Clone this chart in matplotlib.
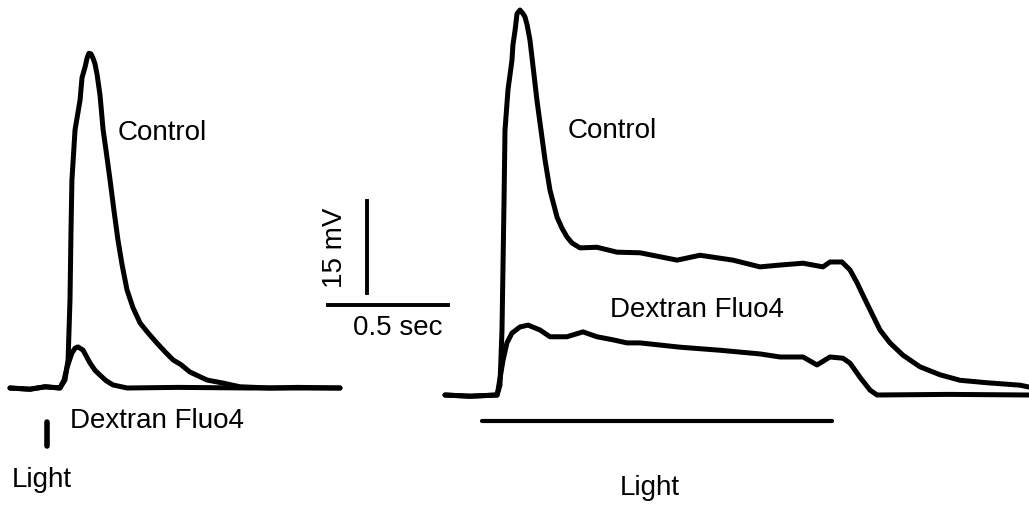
import numpy as np
import matplotlib.pyplot as plt

# Recorded traces, time in s from sweep start, voltage in mV above rest
# Left panel: brief flash
left_t = [0, 0.083, 0.146, 0.208, 0.229, 0.242, 0.25, 0.254, 0.258, 0.271, 0.292,
          0.3, 0.313, 0.321, 0.329, 0.3375, 0.346, 0.354, 0.363, 0.375, 0.388, 0.4,
          0.417, 0.433, 0.45, 0.467, 0.4875, 0.5125, 0.542, 0.575, 0.613, 0.646,
          0.679, 0.7125, 0.75, 0.821, 0.888, 0.958, 1.083, 1.2, 1.375]
left_control = [0, -0.2, 0.2, 0, 1.3, 4.6, 14.4, 25.3, 33.9, 42.1, 47.0,
                50.6, 52.4, 53.8, 54.6, 54.5, 53.8, 52.9, 51.1, 47.8, 42.1, 38.8,
                33.9, 29.0, 24.1, 20.1, 16.0, 13.1, 10.6, 9.0, 7.3, 5.9,
                4.6, 3.8, 2.6, 1.3, 0.8, 0.2, 0, 0.1, 0]

left_dex_t = [0, 0.083, 0.146, 0.208, 0.225, 0.238, 0.258, 0.271, 0.283, 0.304, 0.333,
              0.354, 0.375, 0.4, 0.429, 0.488, 0.7, 1.0, 1.375]
left_dextran = [0, -0.2, 0.2, 0, 1.3, 3.4, 5.7, 6.5, 6.7, 6.2, 4.1,
                2.9, 2.1, 1.2, 0.5, 0, 0.1, 0, 0]

# Right panel: long light step
right_t = [0, 0.104, 0.217, 0.229, 0.2375, 0.246, 0.25, 0.2625, 0.279, 0.283, 0.292,
           0.3, 0.3125, 0.325, 0.333, 0.342, 0.354, 0.371, 0.383, 0.4, 0.417, 0.4375,
           0.467, 0.4875, 0.508, 0.529, 0.5625, 0.633, 0.717, 0.8125, 0.967, 1.0625,
           1.2, 1.3125, 1.396, 1.492, 1.575, 1.604, 1.654, 1.6875, 1.717, 1.7375,
           1.771, 1.8125, 1.854, 1.908, 1.979, 2.0625, 2.146, 2.258, 2.396, 2.433]
right_control = [0, -0.2, 0, 1.6, 10.6, 31.8, 43.2, 49.8, 54.6, 57.1, 59.5,
                 62.2, 62.8, 62.2, 61.7, 60.4, 57.9, 52.2, 48.1, 43.2, 38.3, 33.4,
                 29.0, 27.2, 25.8, 24.8, 24.0, 24.1, 23.3, 23.2, 22.0, 22.8,
                 22.0, 20.9, 21.2, 21.5, 20.9, 21.7, 21.7, 20.4, 18.3, 16.6,
                 13.9, 10.6, 8.5, 6.5, 4.6, 3.3, 2.4, 2.0, 1.6, 1.3]

right_dex_t = [0, 0.104, 0.217, 0.221, 0.242, 0.258, 0.279, 0.3125, 0.346, 0.396,
               0.4375, 0.508, 0.575, 0.633, 0.7, 0.758, 0.8125, 0.979, 1.146, 1.3125,
               1.396, 1.492, 1.55, 1.604, 1.658, 1.6875, 1.729, 1.771, 1.8, 2.1, 2.433]
right_dextran = [0, -0.2, 0, 0.8, 5.7, 8.5, 10.1, 11.1, 11.4, 10.6,
                 9.5, 9.5, 10.3, 9.5, 9.0, 8.5, 8.5, 7.8, 7.3, 6.7,
                 6.2, 6.2, 4.9, 6.2, 6.0, 5.2, 2.9, 0.8, 0, 0.1, 0]

# Light stimulus (s)
flash_on = 0.155
step_on, step_off = 0.154, 1.6125

# Scale bar
bar_mv = 15
bar_sec = 0.5

W, H = 1029, 505
PX_PER_S = 240.0
PX_PER_MV = 6.13

fig = plt.figure(figsize=(W / 100, H / 100), dpi=100)
ax = fig.add_axes([0, 0, 1, 1])
# y reference: left baseline sits at pixel row 388
ax.set_xlim(0, W / PX_PER_S)
ax.set_ylim((388 - H) / PX_PER_MV, 388 / PX_PER_MV)
ax.axis('off')

lw = 3.6
style = dict(color='black', lw=lw, solid_joinstyle='round', solid_capstyle='round')
# left panel offsets
lt0 = 10 / PX_PER_S
ax.plot(np.array(left_t) + lt0, left_control, **style)
ax.plot(np.array(left_dex_t) + lt0, left_dextran, **style)

# right panel offsets
rt0 = 445 / PX_PER_S
rv0 = -(395 - 388) / PX_PER_MV
ax.plot(np.array(right_t) + rt0, np.array(right_control) + rv0, **style)
ax.plot(np.array(right_dex_t) + rt0, np.array(right_dextran) + rv0, **style)

# light markers
ax.plot([lt0 + flash_on, lt0 + flash_on], [-5.6, -9.5], color='black', lw=4, solid_capstyle='round')
ax.plot([rt0 + step_on, rt0 + step_off], [rv0 - 4.3, rv0 - 4.3], color='black', lw=3,
        solid_capstyle='round')

# scale bar
sx = 328 / PX_PER_S
sy = (388 - 305) / PX_PER_MV
ax.plot([sx, sx + bar_sec], [sy, sy], color='black', lw=2.8)
vx = 367 / PX_PER_S
vy = (388 - 293) / PX_PER_MV
ax.plot([vx, vx], [vy, vy + bar_mv], color='black', lw=2.8)


def at(x, y):
    return x / W, 1 - y / H


font = dict(family=['Liberation Sans', 'DejaVu Sans'], size=20, color='black')
fig.text(*at(162, 140), 'Control', ha='center', va='baseline', **font)
fig.text(*at(157, 428), 'Dextran Fluo4', ha='center', va='baseline', **font)
fig.text(*at(42, 487), 'Light', ha='center', va='baseline', **font)
fig.text(*at(612, 138), 'Control', ha='center', va='baseline', **font)
fig.text(*at(697, 317), 'Dextran Fluo4', ha='center', va='baseline', **font)
fig.text(*at(650, 495), 'Light', ha='center', va='baseline', **font)
fig.text(*at(398, 335), '0.5 sec', ha='center', va='baseline', **font)
fig.text(*at(335, 248), '15 mV', ha='center', va='center', rotation=90, **font)

fig.savefig('out.png', dpi=100)
